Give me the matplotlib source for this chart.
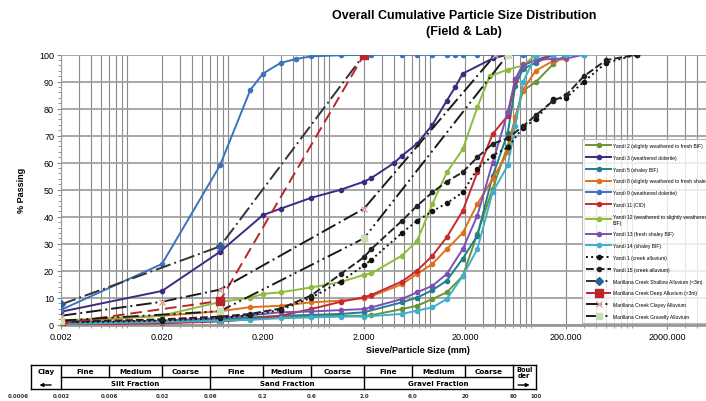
import numpy as np
import matplotlib
matplotlib.use('Agg')
import matplotlib.pyplot as plt
from matplotlib.ticker import FixedLocator, MultipleLocator, NullFormatter

plt.rcParams['font.family'] = ['Liberation Sans Narrow', 'Liberation Sans', 'DejaVu Sans']

# sieve / particle sizes (mm) and % passing
yandi2_size = [0.002, 0.02, 0.075, 0.15, 0.3, 0.6, 1.18, 2.0, 2.36, 4.75, 6.7, 9.5, 13.2, 19, 26.5, 37.5, 53, 75, 100, 150, 200]
yandi2_pass = [0.3, 0.8, 1.4, 2.0, 2.7, 3.0, 3.3, 3.3, 3.5, 5.8, 7.0, 9.5, 12.0, 18.0, 33.6, 50.3, 66.3, 86.7, 89.8, 96.6, 100]

yandi3_size = [0.002, 0.02, 0.075, 0.2, 0.3, 0.6, 1.18, 2.0, 2.36, 4.0, 4.75, 6.7, 9.5, 13.2, 16, 19, 37.5, 53]
yandi3_pass = [4.8, 12.5, 27.0, 40.6, 43.0, 47.0, 50.0, 53.0, 54.3, 60.0, 62.6, 67.0, 74.0, 83.0, 88.0, 93.0, 98.6, 100]

yandi5_size = [0.002, 0.02, 0.075, 0.15, 0.3, 0.6, 1.18, 2.0, 4.75, 6.7, 9.5, 13.2, 19, 26.5, 37.5, 53, 63, 75, 100, 150]
yandi5_pass = [0.5, 1.2, 2.0, 2.7, 3.3, 3.6, 4.0, 4.6, 8.3, 10.0, 12.8, 16.3, 24.5, 33.0, 55.0, 71.0, 88.5, 94.7, 97.0, 100]

yandi8_size = [0.002, 0.02, 0.075, 0.15, 0.3, 0.6, 1.18, 2.0, 2.36, 4.75, 6.7, 9.5, 13.2, 19, 26.5, 37.5, 53, 63, 75, 100, 150, 200]
yandi8_pass = [1.0, 3.3, 5.0, 6.5, 7.0, 8.3, 8.9, 9.8, 10.5, 15.0, 18.8, 22.5, 28.0, 34.0, 44.7, 54.0, 63.8, 77.0, 87.0, 94.0, 97.8, 98.5]

yandi9_size = [0.002, 0.02, 0.075, 0.15, 0.2, 0.3, 0.425, 0.6, 1.18, 2.36, 4.75, 6.7, 9.5, 13.2, 16, 19, 26.5, 37.5, 53, 75, 100, 150, 200, 300]
yandi9_pass = [5.5, 22.5, 59.0, 87.0, 93.0, 97.0, 98.4, 99.4, 99.8, 100, 100, 100, 100, 100, 100, 100, 100, 100, 100, 100, 100, 100, 100, 100]

yandi11_size = [0.002, 0.02, 0.075, 0.15, 0.3, 0.6, 1.18, 2.0, 2.36, 4.75, 6.7, 9.5, 13.2, 19, 26.5, 37.5, 53, 63, 75, 100, 150]
yandi11_pass = [0.0, 0.5, 1.2, 2.0, 3.3, 5.8, 8.5, 10.2, 11.0, 16.0, 20.0, 25.5, 32.4, 42.2, 56.4, 70.6, 77.4, 90.4, 96.6, 98.0, 100]

yandi12_size = [0.002, 0.02, 0.075, 0.15, 0.2, 0.3, 0.6, 1.18, 2.0, 2.36, 4.75, 6.7, 9.5, 13.2, 19, 26.5, 35, 53, 75, 100]
yandi12_pass = [1.5, 3.4, 8.4, 10.0, 11.4, 12.0, 13.8, 15.8, 18.5, 19.0, 25.6, 31.0, 44.7, 56.4, 65.0, 80.5, 92.0, 94.5, 96.0, 100]

yandi13_size = [0.002, 0.02, 0.075, 0.15, 0.3, 0.6, 1.18, 2.0, 2.36, 4.75, 6.7, 9.5, 13.2, 19, 26.5, 37.5, 53, 63, 75, 100, 150, 200, 300]
yandi13_pass = [0.5, 1.5, 2.5, 3.5, 4.6, 4.9, 5.4, 5.8, 6.4, 9.5, 12.0, 14.4, 18.8, 28.0, 40.4, 60.0, 78.6, 91.0, 96.0, 98.0, 98.5, 98.6, 100]

yandi14_size = [0.002, 0.02, 0.075, 0.15, 0.3, 0.6, 1.18, 2.0, 4.75, 6.7, 9.5, 13.2, 19, 26.5, 37.5, 53, 63, 75, 100, 150, 200, 300]
yandi14_pass = [0.3, 1.0, 1.5, 1.8, 2.4, 2.7, 3.0, 3.0, 4.0, 5.2, 6.4, 9.5, 18.0, 28.0, 49.0, 59.0, 73.7, 89.8, 99.6, 100, 100, 100]

yandi1_size = [0.002, 0.02, 0.075, 0.15, 0.3, 0.6, 1.18, 2.0, 2.36, 4.75, 6.7, 9.5, 13.2, 19, 26.5, 37.5, 53, 75, 100, 150, 200, 300, 500, 1000]
yandi1_pass = [0.8, 1.5, 2.5, 3.5, 5.5, 10.0, 16.0, 22.0, 24.0, 34.0, 38.5, 42.0, 45.0, 49.0, 57.7, 62.6, 65.7, 73.0, 76.0, 83.6, 84.0, 90.0, 97.0, 100]

yandi15_size = [0.002, 0.02, 0.075, 0.15, 0.3, 0.6, 1.18, 2.0, 2.36, 4.75, 6.7, 9.5, 13.2, 19, 26.5, 37.5, 53, 75, 100, 150, 200, 300, 500, 1000]
yandi15_pass = [1.0, 2.0, 3.0, 4.0, 6.0, 10.8, 18.8, 25.0, 28.0, 38.5, 44.0, 49.0, 53.0, 56.5, 62.0, 67.0, 69.0, 73.5, 77.5, 83.0, 85.0, 92.0, 98.0, 100]

shallow_size = [0.002, 0.075, 2.0]
shallow_pass = [7.5, 29.0, 100]

deep_size = [0.002, 0.075, 2.0]
deep_pass = [0.5, 8.8, 100]

clayey_size = [0.002, 0.02, 0.075, 2.0, 40]
clayey_pass = [3.3, 8.5, 13.0, 43.0, 100]

gravelly_size = [0.002, 0.075, 2.0, 53]
gravelly_pass = [1.5, 5.0, 32.0, 100]

# grading classification table under the chart
class_edges = [0.001, 0.002, 0.006, 0.02, 0.06, 0.2, 0.6, 2.0, 6.0, 20, 60, 100]
class_names = ['Clay', 'Fine', 'Medium', 'Coarse', 'Fine', 'Medium', 'Coarse',
               'Fine', 'Medium', 'Coarse', 'Boul\nder']
fraction_edges = [0.002, 0.06, 2.0, 60]
fraction_names = ['Silt Fraction', 'Sand Fraction', 'Gravel Fraction']
edge_label_size = [0.0006, 0.002, 0.006, 0.02, 0.06, 0.2, 0.6, 2.0, 6.0, 20, 60, 100]
edge_labels = ['0.0006', '0.002', '0.006', '0.02', '0.06', '0.2', '0.6', '2.0', '6.0', '20', '60', '100']

xtick_vals = [0.002, 0.02, 0.2, 2, 20, 200, 2000]
xtick_labels = ['0.002', '0.020', '0.200', '2.000', '20.000', '200.000', '2000.000']

series = [
    ('Yandi 2 (slightly weathered to fresh BIF)', yandi2_size, yandi2_pass, '#6b9434', '-', 'o'),
    ('Yandi 3 (weathered dolerite)', yandi3_size, yandi3_pass, '#3d2a82', '-', 'o'),
    ('Yandi 5 (shaley BIF)', yandi5_size, yandi5_pass, '#1f7f8c', '-', 'o'),
    ('Yandi 8 (slightly weathered to fresh shaley BIF)', yandi8_size, yandi8_pass, '#e0701c', '-', 'o'),
    ('Yandi 9 (weathered dolerite)', yandi9_size, yandi9_pass, '#3b74bd', '-', 'o'),
    ('Yandi 11 (CID)', yandi11_size, yandi11_pass, '#c62a2f', '-', 'o'),
    ('Yandi 12 (weathered to slightly weathered\nBIF)', yandi12_size, yandi12_pass, '#8fbc3c', '-', 'o'),
    ('Yandi 13 (fresh shaley BIF)', yandi13_size, yandi13_pass, '#7a52b3', '-', 'o'),
    ('Yandi 14 (shaley BIF)', yandi14_size, yandi14_pass, '#3fb0cc', '-', 'o'),
    ('Yandi 1 (creek alluvium)', yandi1_size, yandi1_pass, '#111111', ':', 'o'),
    ('Yandi 15 (creek alluvium)', yandi15_size, yandi15_pass, '#222222', (0, (4, 1.5)), 'o'),
    ('Marillana Creek Shallow Alluvium (<3m)', shallow_size, shallow_pass, '#333333', (0, (8, 2, 1, 2)), 'D'),
    ('Marillana Creek Deep Alluvium (>3m)', deep_size, deep_pass, '#b8262c', (0, (6, 3)), 's'),
    ('Marillana Creek Clayey Alluvium', clayey_size, clayey_pass, '#1a1a1a', (0, (8, 2, 1, 2)), 'x'),
    ('Marillana Creek Gravelly Alluvium', gravelly_size, gravelly_pass, '#1a1a1a', (0, (8, 2, 1, 2, 1, 2)), 's'),
]
marker_colors = {
    'Marillana Creek Shallow Alluvium (<3m)': '#2f5f9a',
    'Marillana Creek Deep Alluvium (>3m)': '#b8262c',
    'Marillana Creek Clayey Alluvium': '#e8a0a0',
    'Marillana Creek Gravelly Alluvium': '#c8ddb0',
}

W, H = 706, 402
X0_PX, DEC_PX = 61, 101          # pixel of 0.002 and pixels per decade
x_right = 0.002 * 10 ** ((W - X0_PX) / DEC_PX)
x_left = 0.002 * 10 ** (-X0_PX / DEC_PX)

fig = plt.figure(figsize=(W / 100, H / 100), dpi=100)
ax = fig.add_axes([X0_PX / W, 1 - 325.7 / H, 1 - X0_PX / W, (325.7 - 55.7) / H])

for label, size, passing, color, ls, mk in series:
    mc = marker_colors.get(label, color)
    ms = 3
    if label.startswith('Marillana'):
        ms = 6 if 'Deep' in label else 4.5
    ax.plot(size, passing, color=color, linestyle=ls, linewidth=1.4,
            marker=mk, markersize=ms, markerfacecolor=mc, markeredgecolor=mc,
            label=label, zorder=3)

ax.set_xscale('log')
ax.set_xlim(0.002, x_right)
ax.set_ylim(0, 100)
ax.xaxis.set_major_locator(FixedLocator(xtick_vals))
ax.set_xticklabels(xtick_labels)
minor = [m * 10.0 ** e for e in range(-3, 4) for m in range(2, 10)]
ax.xaxis.set_minor_locator(FixedLocator(minor))
ax.xaxis.set_minor_formatter(NullFormatter())
ax.yaxis.set_major_locator(MultipleLocator(10))
ax.yaxis.set_minor_locator(MultipleLocator(2))
ax.grid(which='major', axis='x', color='#8a8a8a', linewidth=0.8)
ax.grid(which='minor', axis='x', color='#8a8a8a', linewidth=0.8)
ax.grid(which='major', axis='y', color='#a0a0a0', linewidth=1.3)
ax.set_axisbelow(True)
ax.tick_params(axis='both', which='major', labelsize=6.5, length=3, color='#888888', pad=2)
ax.tick_params(axis='both', which='minor', length=2, color='#888888')
for side in ('top', 'right'):
    ax.spines[side].set_visible(False)
ax.spines['left'].set_color('#999999')
ax.spines['bottom'].set_color('#999999')
ax.spines['bottom'].set_linewidth(2)

fig.text(464 / W, 1 - 16 / H, 'Overall Cumulative Particle Size Distribution',
         ha='center', va='center', fontsize=9, fontweight='bold')
fig.text(464 / W, 1 - 32 / H, '(Field & Lab)', ha='center', va='center',
         fontsize=9, fontweight='bold')
fig.text(22 / W, 1 - 190 / H, '% Passing', rotation=90, ha='center', va='center',
         fontsize=6.5, fontweight='bold')
fig.text(418 / W, 1 - 351 / H, 'Sieve/Particle Size (mm)', ha='center', va='center',
         fontsize=6.5, fontweight='bold')

leg = ax.legend(loc='upper left', bbox_to_anchor=(582 / W, 1 - 140 / H),
                bbox_transform=fig.transFigure, fontsize=3.6, frameon=True,
                fancybox=False, edgecolor='#aaaaaa', handlelength=5.0,
                labelspacing=1.36, borderpad=0.8, handletextpad=0.4,
                borderaxespad=0)
leg.get_frame().set_linewidth(0.8)
leg.set_zorder(5)

# classification table, same log scale as the chart, y in pixels
tb = fig.add_axes([0, 0, 1, 47 / H])
tb.set_xscale('log')
tb.set_xlim(x_left, x_right)
tb.set_ylim(402, 355)
tb.axis('off')
top, mid, bot = 366, 378, 390
kw = dict(color='black', linewidth=1.0, clip_on=False)
tb.plot([class_edges[0], class_edges[-1]], [top, top], **kw)
tb.plot([class_edges[0], class_edges[-1]], [bot, bot], **kw)
tb.plot([class_edges[1], class_edges[-2]], [mid, mid], **kw)
for e in class_edges:
    y_end = bot if (e in fraction_edges or e in (class_edges[0], class_edges[-1])) else mid
    tb.plot([e, e], [top, y_end], **kw)
for i, name in enumerate(class_names):
    xc = np.sqrt(class_edges[i] * class_edges[i + 1])
    if '\n' in name:
        tb.text(xc, top + 7, name, ha='center', va='center', fontsize=4.8,
                fontweight='bold', family='DejaVu Sans', linespacing=0.9)
    else:
        tb.text(xc, (top + mid) / 2, name, ha='center', va='center', fontsize=5.2,
                fontweight='bold', family='DejaVu Sans')
for i, name in enumerate(fraction_names):
    xc = np.sqrt(fraction_edges[i] * fraction_edges[i + 1])
    tb.text(xc, (mid + bot) / 2, name, ha='center', va='center', fontsize=5.0,
            fontweight='bold', family='DejaVu Sans')
for s, lab in zip(edge_label_size, edge_labels):
    xs = max(s, class_edges[0] * 0.75)
    tb.text(xs, 397, lab, ha='center', va='center', fontsize=4.0,
            fontweight='bold', family='DejaVu Sans', color='#333333')
tb.annotate('', xy=(class_edges[0] * 1.15, 386), xytext=(class_edges[1] * 0.85, 386),
            arrowprops=dict(arrowstyle='-|>', color='black', linewidth=1.0, mutation_scale=5))
tb.annotate('', xy=(class_edges[-1] * 0.93, 386), xytext=(class_edges[-2] * 1.05, 386),
            arrowprops=dict(arrowstyle='-|>', color='black', linewidth=1.0, mutation_scale=5))

fig.savefig('out.png', dpi=100)
